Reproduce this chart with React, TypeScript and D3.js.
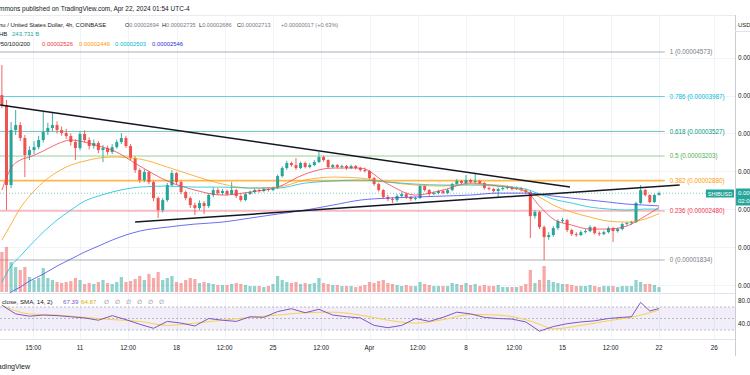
import React from 'react';
import * as d3 from 'd3';

// Prices are in units of 1e-8 USD (e.g. 2713 = 0.00002713)
const candleStart = '2024-03-05T08:00Z';
const candleStepHours = 8;
const firstOpen = 4006;
const closes = [
  3875, 2821, 3545, 3611, 3440, 3216, 3282, 3321, 3414, 3519,
  3572, 3611, 3545, 3506, 3466, 3387, 3308, 3493, 3414, 3335,
  3374, 3282, 3308, 3256, 3321, 3387, 3440, 3335, 3177, 3018,
  2887, 2992, 2860, 2649, 2491, 2623, 2821, 2979, 2860, 2729,
  2649, 2557, 2518, 2584, 2544, 2689, 2755, 2715, 2742, 2702,
  2755, 2676, 2623, 2702, 2729, 2755, 2742, 2768, 2755, 2781,
  2939, 3045, 3111, 3084, 3045, 3111, 3058, 3084, 3124, 3190,
  3150, 3058, 3084, 3058, 3071, 3045, 3071, 3045, 3018, 3005,
  2913, 2834, 2755, 2663, 2636, 2623, 2676, 2702, 2663, 2636,
  2649, 2808, 2755, 2702, 2715, 2742, 2715, 2755, 2834, 2874,
  2847, 2887, 2860, 2874, 2847, 2781, 2768, 2742, 2768, 2781,
  2794, 2768, 2781, 2755, 2729, 2412, 2465, 2267, 2136, 2162,
  2254, 2346, 2360, 2228, 2175, 2162, 2201, 2215, 2267, 2188,
  2175, 2201, 2254, 2215, 2241, 2307, 2320, 2333, 2584, 2755,
  2689, 2597, 2689, 2713,
];
const highs = [
  4402, 3941, 3651, 3809, 3651, 3480, 3330, 3400, 3470, 3783,
  3640, 3783, 3660, 3590, 3560, 3500, 3420, 3530, 3540, 3450,
  3420, 3400, 3350, 3340, 3360, 3420, 3506, 3470, 3360, 3200,
  3040, 3030, 3010, 2880, 2670, 2650, 2850, 3018, 2990, 2880,
  2750, 2670, 2590, 2620, 2610, 2710, 2790, 2780, 2770, 2760,
  2860, 2770, 2700, 2720, 2750, 2775, 2770, 2790, 2785, 2800,
  2960, 3070, 3140, 3130, 3177, 3130, 3130, 3110, 3150, 3256,
  3210, 3160, 3100, 3100, 3090, 3085, 3090, 3085, 3060, 3050,
  3020, 2930, 2850, 2770, 2690, 2660, 2700, 2725, 2720, 2680,
  2670, 2830, 2820, 2770, 2740, 2760, 2760, 2775, 2850, 2900,
  2890, 2953, 2900, 2966, 2890, 2860, 2800, 2785, 2790, 2800,
  2815, 2810, 2800, 2795, 2770, 2745, 2490, 2480, 2290, 2200,
  2280, 2370, 2390, 2375, 2245, 2200, 2225, 2240, 2290, 2280,
  2210, 2220, 2275, 2270, 2260, 2325, 2340, 2350, 2600, 2821,
  2770, 2700, 2705, 2735,
];
const lows = [
  3835, 2491, 2780, 3480, 3400, 2926, 3150, 3230, 3290, 3380,
  3480, 3530, 3500, 3470, 3430, 3340, 3150, 3280, 3380, 3290,
  3300, 3240, 3124, 3220, 3230, 3300, 3360, 3310, 3150, 2980,
  2850, 2860, 2830, 2610, 2386, 2460, 2600, 2800, 2830, 2700,
  2620, 2520, 2425, 2490, 2439, 2520, 2660, 2690, 2690, 2680,
  2690, 2650, 2600, 2610, 2690, 2710, 2720, 2725, 2735, 2740,
  2770, 2920, 3020, 3060, 3020, 3030, 3040, 3040, 3070, 3110,
  3130, 3040, 3040, 3040, 3040, 3020, 3030, 3025, 3000, 2985,
  2890, 2810, 2735, 2640, 2610, 2584, 2600, 2655, 2640, 2610,
  2620, 2640, 2735, 2680, 2690, 2700, 2700, 2700, 2740, 2820,
  2825, 2830, 2840, 2845, 2830, 2760, 2750, 2720, 2649, 2750,
  2765, 2750, 2755, 2735, 2705, 2123, 2380, 2240, 1833, 2100,
  2140, 2230, 2320, 2200, 2150, 2140, 2150, 2185, 2200, 2170,
  2150, 2160, 2185, 2070, 2195, 2225, 2290, 2300, 2320, 2570,
  2670, 2580, 2585, 2686,
];
// volumes in billions
const volumes = [
  2000, 2250, 1500, 1250, 1100, 1250, 750, 600, 700, 1200,
  700, 600, 500, 450, 500, 550, 700, 600, 400, 450,
  400, 500, 600, 450, 400, 500, 750, 500, 550, 650,
  800, 600, 900, 700, 1000, 600, 700, 800, 500, 450,
  600, 700, 650, 450, 500, 450, 400, 350, 350, 350,
  400, 450, 400, 350, 300, 300, 300, 250, 300, 400,
  800, 600, 500, 450, 500, 400, 450, 400, 450, 700,
  450, 400, 350, 350, 300, 300, 300, 250, 300, 350,
  500, 450, 550, 600, 450, 400, 350, 300, 350, 300,
  300, 500, 400, 350, 300, 300, 300, 300, 450, 400,
  350, 450, 350, 400, 300, 350, 300, 300, 350, 250,
  250, 250, 250, 300, 400, 1100, 450, 600, 1300, 600,
  500, 450, 400, 400, 350, 300, 300, 300, 350, 300,
  250, 300, 300, 300, 250, 300, 300, 300, 600, 500,
  400, 400, 350, 244,
];

// Moving averages sampled at candle indices
const maSampleIdx = [0, 2, 4, 6, 9, 12, 15, 18, 21, 24, 30, 36, 42, 48, 54, 60, 66, 72, 78, 84, 90, 96, 102, 108, 114, 117, 120, 124, 128, 132, 136, 140, 143];
const ma20 = [2755, 3045, 3150, 3190, 3269, 3361, 3414, 3387, 3335, 3282, 3071, 2874, 2755, 2689, 2729, 2794, 2966, 3045, 3045, 2834, 2689, 2755, 2847, 2808, 2742, 2544, 2373, 2294, 2241, 2241, 2281, 2412, 2526];
const ma50 = [2096, 2307, 2518, 2676, 2860, 2992, 3084, 3137, 3176, 3190, 3163, 3058, 2939, 2834, 2781, 2794, 2887, 2926, 2913, 2860, 2821, 2808, 2834, 2821, 2742, 2663, 2557, 2465, 2399, 2346, 2333, 2373, 2446];
const ma100 = [1543, 1754, 1885, 2017, 2201, 2360, 2491, 2610, 2676, 2729, 2794, 2808, 2794, 2794, 2781, 2781, 2847, 2874, 2887, 2860, 2834, 2821, 2821, 2808, 2768, 2702, 2636, 2584, 2531, 2505, 2491, 2505, 2503];
const ma200 = [1306, 1411, 1477, 1556, 1648, 1754, 1846, 1938, 2017, 2096, 2215, 2267, 2307, 2333, 2386, 2439, 2491, 2557, 2623, 2649, 2663, 2676, 2689, 2715, 2715, 2702, 2676, 2649, 2623, 2597, 2570, 2557, 2546];
const maColors = ['#f23645', '#ff9800', '#00bcd4', '#3d3dea'];

// RSI
const rsiIdx = [0, 3, 6, 9, 12, 15, 18, 21, 24, 27, 30, 33, 36, 39, 42, 45, 48, 51, 54, 57, 60, 63, 66, 69, 72, 75, 78, 81, 84, 87, 90, 93, 96, 99, 102, 105, 108, 111, 114, 117, 120, 123, 126, 129, 132, 135, 137, 139, 141, 143];
const rsiVals = [73, 58, 54, 56, 55, 53, 51, 47, 55, 48, 40, 33, 45, 42, 37, 50, 47, 45, 53, 52, 62, 67, 60, 66, 56, 53, 51, 38, 34, 38, 50, 45, 52, 61, 58, 52, 50, 49, 44, 28, 36, 41, 44, 46, 50, 52, 53, 78, 63, 67.39];
const rsiSmaIdx = [0, 6, 12, 18, 24, 30, 36, 42, 48, 54, 60, 66, 72, 78, 84, 90, 96, 102, 108, 114, 117, 120, 126, 132, 138, 141, 143];
const rsiSmaVals = [73, 58, 56, 52, 48, 45, 38, 42, 47, 52, 56, 60, 61, 56, 47, 42, 48, 57, 56, 48, 40, 32, 38, 46, 54, 60, 64.87];

// Fibonacci retracement
const fibLevels = [1, 0.786, 0.618, 0.5, 0.382, 0.236, 0];
const fibPrices = [4573, 3987, 3527, 3203, 2880, 2480, 1834];
const fibColors = ['#787b86', '#00bcd4', '#089981', '#4caf50', '#ff9800', '#f23645', '#787b86'];
const fibStart = '2024-03-05T00:00Z';
const fibEnd = '2024-04-22T10:00Z';

// Trend lines
const upperTrendDates = ['2024-03-05T05:00Z', '2024-04-15T13:00Z'];
const upperTrendPrices = [3875, 2794];
const lowerTrendDates = ['2024-03-15T00:00Z', '2024-04-23T12:00Z'];
const lowerTrendPrices = [2333, 2821];

// Axes
const xTickDates = ['2024-03-07T15:00Z', '2024-03-11T00:00Z', '2024-03-14T12:00Z', '2024-03-18T00:00Z', '2024-03-21T12:00Z', '2024-03-25T00:00Z', '2024-03-28T12:00Z', '2024-04-01T00:00Z', '2024-04-04T12:00Z', '2024-04-08T00:00Z', '2024-04-11T12:00Z', '2024-04-15T00:00Z', '2024-04-18T12:00Z', '2024-04-22T00:00Z', '2024-04-26T00:00Z'];
const xTickLabels = ['15:00', '11', '12:00', '18', '12:00', '25', '12:00', 'Apr', '12:00', '8', '12:00', '15', '12:00', '22', '26'];
const yTicks = [4500, 4000, 3500, 3000, 2500, 2000, 1500];
const rsiTicks = [80, 40];
const lastPrice = 2713;
const ohlcLabels = ['O', 'H', 'L', 'C'];
const ohlcValues = [2694, 2735, 2686, 2713];

const FONT = 'Liberation Sans, Arial, sans-serif';
const UP = '#26a69a';
const DOWN = '#ef5350';

export default function App() {
  const W = 750, H = 375;
  const paneRight = 735;
  const x = d3.scaleUtc()
    .domain([new Date('2024-03-11T00:00Z'), new Date('2024-04-22T00:00Z')])
    .range([80, 659]);
  const y = d3.scaleLinear().domain([1834, 4573]).range([260, 52]);
  const yVol = d3.scaleLinear().domain([0, 5000]).range([292, 192]);
  const yRsi = d3.scaleLinear().domain([30, 70]).range([330, 307]);

  const t0 = new Date(candleStart).getTime();
  const step = candleStepHours * 3600 * 1000;
  const tOf = (i: number) => new Date(t0 + i * step);

  const candles = closes.map((c, i) => ({
    t: tOf(i),
    o: i === 0 ? firstOpen : closes[i - 1],
    h: highs[i],
    l: lows[i],
    c,
    v: volumes[i],
  }));

  const maLine = d3.line<[number, number]>()
    .x((d) => x(tOf(d[0])))
    .y((d) => y(d[1]))
    .curve(d3.curveMonotoneX);
  const rsiLine = d3.line<[number, number]>()
    .x((d) => x(tOf(d[0])))
    .y((d) => yRsi(d[1]));
  const smaLine = d3.line<[number, number]>()
    .x((d) => x(tOf(d[0])))
    .y((d) => yRsi(d[1]))
    .curve(d3.curveMonotoneX);

  const fmt = (p: number) => (p * 1e-8).toFixed(8);
  const gridColor = '#f0f3fa';
  const txt = '#131722';
  const ohlcX = [125, 162, 199, 237];

  return (
    <svg width={W} height={H} style={{ position: 'absolute', left: 0, top: 0, background: '#fff' }} fontFamily={FONT}>
      <defs>
        <clipPath id="main"><rect x={0} y={15} width={paneRight} height={278} /></clipPath>
        <clipPath id="rsi"><rect x={0} y={294} width={paneRight} height={45} /></clipPath>
      </defs>
      <rect x={0} y={0} width={W} height={H} fill="#fff" />
      {/* grid */}
      <line x1={0} x2={paneRight} y1={15.5} y2={15.5} stroke="#e9ebf0" />
      {xTickDates.map((d, i) => (
        <line key={'vg' + i} x1={Math.round(x(new Date(d))) + 0.5} x2={Math.round(x(new Date(d))) + 0.5} y1={15} y2={339} stroke={gridColor} />
      ))}
      {yTicks.map((p) => (
        <line key={'hg' + p} x1={0} x2={paneRight} y1={Math.round(y(p)) + 0.5} y2={Math.round(y(p)) + 0.5} stroke={gridColor} />
      ))}

      <g clipPath="url(#main)">
        {/* fib lines */}
        {fibPrices.map((p, i) => (
          <line key={'fib' + i} x1={x(new Date(fibStart))} x2={x(new Date(fibEnd))} y1={y(p)} y2={y(p)} stroke={fibColors[i]} strokeOpacity={i === 4 ? 0.7 : 0.6} strokeWidth={i === 4 ? 1.8 : 1} />
        ))}
        {/* last price line */}
        <line x1={0} x2={paneRight} y1={y(lastPrice)} y2={y(lastPrice)} stroke={UP} strokeOpacity={0.6} strokeDasharray="1,2" />
        {/* volume */}
        {candles.map((d, i) => {
          const cx = x(d.t);
          const up = d.c >= d.o;
          return <rect key={'v' + i} x={cx - 1.6} y={yVol(d.v)} width={3.2} height={292 - yVol(d.v)} fill={up ? UP : DOWN} fillOpacity={0.5} />;
        })}
        {/* candles */}
        {candles.map((d, i) => {
          const cx = x(d.t);
          const up = d.c >= d.o;
          const col = up ? UP : DOWN;
          const yt = y(Math.max(d.o, d.c));
          const yb = y(Math.min(d.o, d.c));
          return (
            <g key={'c' + i}>
              <line x1={cx} x2={cx} y1={y(d.h)} y2={y(d.l)} stroke={col} strokeWidth={0.9} />
              <rect x={cx - 1.5} y={yt} width={3} height={Math.max(0.8, yb - yt)} fill={col} />
            </g>
          );
        })}
        {/* moving averages */}
        {[ma20, ma50, ma100, ma200].map((arr, k) => (
          <path key={'ma' + k} d={maLine(maSampleIdx.map((idx, j) => [idx, arr[j]] as [number, number])) || ''} fill="none" stroke={maColors[k]} strokeWidth={1} strokeOpacity={0.75} />
        ))}
        {/* trend lines */}
        <line x1={x(new Date(upperTrendDates[0]))} x2={x(new Date(upperTrendDates[1]))} y1={y(upperTrendPrices[0])} y2={y(upperTrendPrices[1])} stroke="#131722" strokeWidth={1.5} />
        <line x1={x(new Date(lowerTrendDates[0]))} x2={x(new Date(lowerTrendDates[1]))} y1={y(lowerTrendPrices[0])} y2={y(lowerTrendPrices[1])} stroke="#131722" strokeWidth={1.5} />
      </g>

      {/* fib labels */}
      {fibPrices.map((p, i) => (
        <text key={'fl' + i} x={x(new Date(fibEnd)) + 5} y={y(p) + 2.2} fontSize={6.3} fill={fibColors[i]}>
          {`${fibLevels[i]} (${fmt(p)})`}
        </text>
      ))}

      {/* pane separators */}
      <line x1={0} x2={W} y1={293.5} y2={293.5} stroke="#e0e3eb" />
      <line x1={0} x2={W} y1={339.5} y2={339.5} stroke="#e0e3eb" />

      {/* RSI pane */}
      <g clipPath="url(#rsi)">
        <rect x={0} y={yRsi(70)} width={paneRight} height={yRsi(30) - yRsi(70)} fill="#7e57c2" fillOpacity={0.1} />
        {[70, 50, 30].map((v) => (
          <line key={'rb' + v} x1={0} x2={paneRight} y1={yRsi(v)} y2={yRsi(v)} stroke="#787b86" strokeOpacity={0.6} strokeDasharray="2,2" strokeWidth={0.8} />
        ))}
        <path d={smaLine(rsiSmaIdx.map((idx, j) => [idx, rsiSmaVals[j]] as [number, number])) || ''} fill="none" stroke="#f5d34a" strokeWidth={1} />
        <path d={rsiLine(rsiIdx.map((idx, j) => [idx, rsiVals[j]] as [number, number])) || ''} fill="none" stroke="#7e57c2" strokeWidth={1} />
      </g>
      <text y={304} fontSize={6.2}>
        <tspan x={2} fill={txt}>close, SMA, 14, 2)</tspan>
        <tspan x={63} fill="#7e57c2">67.39</tspan>
        <tspan x={81} fill="#d4b106">64.87</tspan>
      </text>
      {[106, 117, 128, 139, 150, 161].map((xx) => (
        <text key={'null' + xx} x={xx} y={304} fontSize={6.2} fill="#787b86" textAnchor="middle">∅</text>
      ))}

      {/* right axis */}
      <rect x={paneRight} y={0} width={W - paneRight} height={H} fill="#fff" />
      <line x1={paneRight + 0.5} x2={paneRight + 0.5} y1={15} y2={356} stroke="#c9ccd3" />
      <text x={738} y={27} fontSize={6} fill={txt}>USD</text>
      <line x1={paneRight} x2={W} y1={31.5} y2={31.5} stroke="#e0e3eb" />
      {yTicks.map((p) => (
        <text key={'yl' + p} x={738} y={y(p) + 2.2} fontSize={6.3} fill={txt}>{fmt(p)}</text>
      ))}
      {rsiTicks.map((v) => (
        <text key={'rl' + v} x={738} y={yRsi(v) + 2.2} fontSize={6.3} fill={txt}>{v.toFixed(1)}</text>
      ))}
      {/* last price tag */}
      <rect x={706} y={189.5} width={28} height={8} fill={UP} />
      <text x={720} y={195.6} fontSize={5.5} fill="#fff" textAnchor="middle">SHIBUSD</text>
      <rect x={paneRight + 1} y={188.5} width={16} height={17} fill={UP} />
      <text x={738} y={195} fontSize={6} fill="#fff">{fmt(lastPrice)}</text>
      <text x={738} y={203} fontSize={6} fill="#fff">02:06:12</text>

      {/* x axis labels */}
      {xTickDates.map((d, i) => (
        <text key={'xl' + i} x={x(new Date(d))} y={349.5} fontSize={6.3} fill={txt} textAnchor="middle">{xTickLabels[i]}</text>
      ))}

      {/* header */}
      <text x={-1} y={10.5} fontSize={6.5} fill={txt}>mmons published on TradingView.com, Apr 22, 2024 01:54 UTC-4</text>
      <text x={-1} y={26.5} fontSize={5.9} fill={txt}>nu / United States Dollar, 4h, COINBASE</text>
      {ohlcLabels.map((lab, i) => (
        <text key={'ohlc' + i} x={ohlcX[i]} y={26.5} fontSize={5.6}>
          <tspan fill={txt}>{lab}</tspan>
          <tspan fill="#787b86">{fmt(ohlcValues[i])}</tspan>
        </text>
      ))}
      <text x={281} y={26.5} fontSize={5.6} fill="#787b86">+0.00000017 (+0.63%)</text>
      <text y={35.5} fontSize={6}>
        <tspan x={-1} fill={txt}>HB</tspan>
        <tspan x={12} fill={UP}>243.731 B</tspan>
      </text>
      <text y={45.5} fontSize={5.9}>
        <tspan x={-1} fill={txt}>/50/100/200</tspan>
        <tspan x={42} fill="#f23645">{fmt(ma20[ma20.length - 1])}</tspan>
        <tspan x={79} fill="#ff9800">{fmt(ma50[ma50.length - 1])}</tspan>
        <tspan x={115} fill="#00bcd4">{fmt(ma100[ma100.length - 1])}</tspan>
        <tspan x={152} fill="#2f2fd8">{fmt(ma200[ma200.length - 1])}</tspan>
      </text>

      <text x={30} y={368.5} fontSize={7} fill={txt} textAnchor="end">TradingView</text>
    </svg>
  );
}
